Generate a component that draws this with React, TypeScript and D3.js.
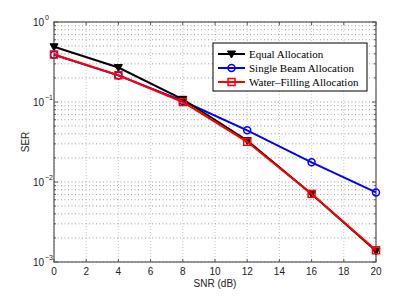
import React from "react";
import * as d3 from "d3";

const snr = [0, 4, 8, 12, 16, 20];
const equalAlloc = [0.49, 0.27, 0.108, 0.033, 0.0071, 0.00137];
const singleBeam = [0.39, 0.215, 0.103, 0.0442, 0.0176, 0.0074];
const waterFilling = [0.392, 0.216, 0.1, 0.0318, 0.0071, 0.0014];
const xTicks = [0, 2, 4, 6, 8, 10, 12, 14, 16, 18, 20];
const yExps = [0, -1, -2, -3];
const legendLabels = ["Equal Allocation", "Single Beam Allocation", "Water\u2013Filling Allocation"];

const W = 415, H = 296;
const L = 54, R = 376, T = 22, B = 262;

export default function App() {
  const x = d3.scaleLinear().domain([0, 20]).range([L, R]);
  const y = d3.scaleLog().domain([1e-3, 1]).range([B, T]);
  const line = d3.line<number>().x((_, i) => x(snr[i])).y((d) => y(d));
  const minor: number[] = [];
  for (let e = -3; e < 0; e++) for (let k = 2; k <= 9; k++) minor.push(k * Math.pow(10, e));
  const series = [
    { data: equalAlloc, color: "#000000", marker: "tri" },
    { data: singleBeam, color: "#0000ff", marker: "circ" },
    { data: waterFilling, color: "#ff0000", marker: "sq" },
  ];
  const drawOrder = [1, 0, 2];
  const marker = (m: string, cx: number, cy: number, c: string, key: any) => {
    if (m === "tri")
      return <path key={key} d={`M${cx - 4},${cy - 3}L${cx + 4},${cy - 3}L${cx},${cy + 4}Z`} fill={c} stroke={c} strokeWidth={1} />;
    if (m === "circ") return <circle key={key} cx={cx} cy={cy} r={3.5} fill="none" stroke={c} strokeWidth={1.5} />;
    return <rect key={key} x={cx - 3.5} y={cy - 3.5} width={7} height={7} fill="none" stroke={c} strokeWidth={1.5} />;
  };
  return (
    <svg width={W} height={H} style={{ position: "absolute", left: 0, top: 0, background: "#fff" }}>
      <rect x={0} y={0} width={W} height={H} fill="#fff" />
      {/* grid */}
      {xTicks.map((t) => (
        <line key={"gx" + t} x1={x(t)} x2={x(t)} y1={T} y2={B} stroke="#b0b0b0" strokeWidth={0.7} strokeDasharray="1,2" />
      ))}
      {minor.map((v) => (
        <line key={"gm" + v} x1={L} x2={R} y1={y(v)} y2={y(v)} stroke="#707070" strokeWidth={0.7} strokeDasharray="1,2.5" />
      ))}
      {yExps.map((e) => (
        <line key={"gy" + e} x1={L} x2={R} y1={y(Math.pow(10, e))} y2={y(Math.pow(10, e))} stroke="#707070" strokeWidth={0.7} strokeDasharray="1,2.5" />
      ))}
      {/* axes box */}
      <rect x={L} y={T} width={R - L} height={B - T} fill="none" stroke="#555" strokeWidth={1.2} />
      {xTicks.map((t) => (
        <g key={"tx" + t}>
          <line x1={x(t)} x2={x(t)} y1={B} y2={B - 3} stroke="#555" />
          <line x1={x(t)} x2={x(t)} y1={T} y2={T + 3} stroke="#555" />
          <text x={x(t)} y={275} fontSize={10} fontFamily="Liberation Sans, Arial, sans-serif" textAnchor="middle" fill="#222">{t}</text>
        </g>
      ))}
      {minor.map((v) => (
        <g key={"tm" + v}>
          <line x1={L} x2={L + 2} y1={y(v)} y2={y(v)} stroke="#555" />
          <line x1={R} x2={R - 2} y1={y(v)} y2={y(v)} stroke="#555" />
        </g>
      ))}
      {yExps.map((e) => (
        <g key={"ty" + e}>
          <line x1={L} x2={L + 4} y1={y(Math.pow(10, e))} y2={y(Math.pow(10, e))} stroke="#555" />
          <line x1={R} x2={R - 4} y1={y(Math.pow(10, e))} y2={y(Math.pow(10, e))} stroke="#555" />
          <text x={44} y={y(Math.pow(10, e)) + 4} fontSize={10} fontFamily="Liberation Sans, Arial, sans-serif" textAnchor="end" fill="#222">10</text>
          <text x={45} y={y(Math.pow(10, e)) - 2} fontSize={7} fontFamily="Liberation Sans, Arial, sans-serif" textAnchor="start" fill="#222">{e === 0 ? "0" : "\u2212" + Math.abs(e)}</text>
        </g>
      ))}
      <text x={215} y={287} fontSize={10} fontFamily="Liberation Sans, Arial, sans-serif" textAnchor="middle" fill="#222">SNR (dB)</text>
      <text transform={`translate(29,${142}) rotate(-90)`} fontSize={10} fontFamily="Liberation Sans, Arial, sans-serif" textAnchor="middle" fill="#222">SER</text>
      {/* series */}
      {drawOrder.map((i) => {
        const s = series[i];
        return (
          <g key={"s" + i}>
            <path d={line(s.data) || ""} fill="none" stroke={s.color} strokeWidth={2} />
            {s.data.map((v, j) => marker(s.marker, x(snr[j]), y(v), s.color, j))}
          </g>
        );
      })}
      {/* legend */}
      <rect x={213} y={43} width={154} height={48} fill="#fff" stroke="#000" strokeWidth={1} />
      {legendLabels.map((lab, i) => {
        const yy = 54 + i * 14;
        const s = series[i];
        return (
          <g key={"lg" + i}>
            <line x1={218} x2={245} y1={yy} y2={yy} stroke={s.color} strokeWidth={2} />
            {marker(s.marker, 231.5, yy, s.color, "m")}
            <text x={249} y={yy + 4} fontSize={11} fontFamily="Liberation Serif, Times New Roman, serif" fill="#000">{lab}</text>
          </g>
        );
      })}
    </svg>
  );
}
